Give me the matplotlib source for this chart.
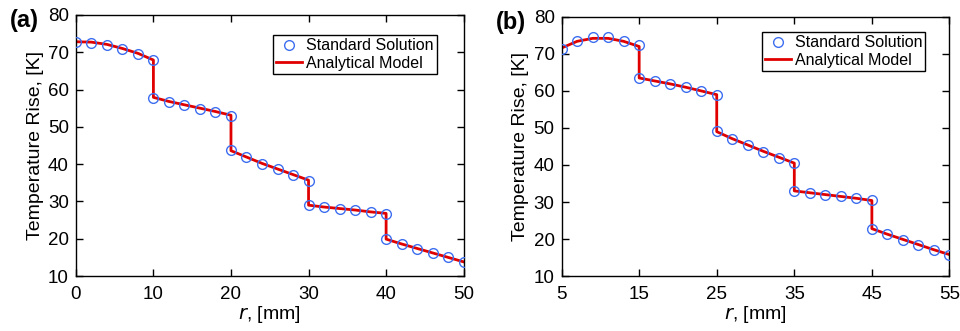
import numpy as np
import matplotlib.pyplot as plt

plt.rcParams['font.family'] = ['Liberation Sans', 'DejaVu Sans']

# panel (a)
r_a = [0, 2, 4, 6, 8, 10, 10, 12, 14, 16, 18, 20, 20, 22, 24, 26, 28, 30, 30,
       32, 34, 36, 38, 40, 40, 42, 44, 46, 48, 50]
std_a = [72.7, 72.6, 72.0, 70.9, 69.6, 67.8, 57.8, 56.7, 55.8, 54.9, 54.0, 53.0,
         43.7, 41.9, 40.1, 38.6, 37.1, 35.6, 29.0, 28.5, 28.0, 27.6, 27.1, 26.7,
         19.9, 18.6, 17.3, 16.2, 15.0, 13.8]
model_a = [72.8, 72.7, 72.1, 71.0, 69.7, 67.9, 57.9, 56.8, 55.9, 55.0, 54.1, 53.1,
           43.6, 41.9, 40.2, 38.7, 37.2, 35.7, 29.0, 28.5, 28.1, 27.7, 27.2, 26.8,
           19.9, 18.6, 17.4, 16.2, 15.0, 13.8]

# panel (b)
r_b = [5, 7, 9, 11, 13, 15, 15, 17, 19, 21, 23, 25, 25, 27, 29, 31, 33, 35, 35,
       37, 39, 41, 43, 45, 45, 47, 49, 51, 53, 55]
std_b = [71.4, 73.5, 74.5, 74.5, 73.5, 72.3, 63.4, 62.7, 61.9, 61.0, 60.0, 59.0,
         49.1, 47.1, 45.3, 43.6, 42.0, 40.5, 32.9, 32.4, 32.0, 31.5, 31.0, 30.5,
         22.7, 21.3, 19.8, 18.4, 17.1, 15.8]
model_b = [71.6, 73.4, 74.2, 74.2, 73.4, 72.0, 63.5, 62.7, 61.9, 61.0, 60.0, 59.0,
           49.0, 47.1, 45.4, 43.7, 42.1, 40.5, 33.0, 32.5, 32.0, 31.5, 31.0, 30.4,
           22.8, 21.3, 19.9, 18.5, 17.1, 15.8]

panels = [
    ('(a)', r_a, std_a, model_a, (0, 50), np.arange(0, 51, 10), (0.93, 0.923)),
    ('(b)', r_b, std_b, model_b, (5, 55), np.arange(5, 56, 10), (0.938, 0.942)),
]
positions = [[0.079, 0.166, 0.404, 0.789], [0.585, 0.166, 0.404, 0.783]]

fig = plt.figure(figsize=(9.6, 3.31), dpi=100)

for (tag, r, s, m, xl, xt, anchor), pos in zip(panels, positions):
    ax = fig.add_axes(pos)
    ax.plot(r, s, 'o', mfc='none', mec='#3d6ef0', ms=7, mew=1,
            label='Standard Solution', zorder=3)
    ax.plot(r, m, '-', color='#e00000', lw=2, label='Analytical Model', zorder=2)
    ax.set_xlim(*xl)
    ax.set_ylim(10, 80)
    ax.set_xticks(xt)
    ax.set_yticks(np.arange(10, 81, 10))
    ax.tick_params(direction='in', top=True, right=True, labelsize=13.5,
                   length=5, width=1, pad=5)
    ax.tick_params(axis='x', pad=7)
    for sp in ax.spines.values():
        sp.set_linewidth(1)
    ax.set_xlabel(r'$r$, [mm]', fontsize=14, labelpad=1)
    ax.set_ylabel('Temperature Rise, [K]', fontsize=14, labelpad=3)
    leg = ax.legend(loc='upper right', fontsize=11.5, fancybox=False,
                    edgecolor='black', framealpha=1, borderpad=0.2,
                    handlelength=1.6, handletextpad=0.25, labelspacing=0.15,
                    borderaxespad=0, bbox_to_anchor=anchor)
    leg.get_frame().set_linewidth(1)
    ax.text(-0.17, 0.98, tag, transform=ax.transAxes, fontsize=17,
            fontweight='bold', ha='left', va='center')

fig.savefig('out.png', dpi=100)
